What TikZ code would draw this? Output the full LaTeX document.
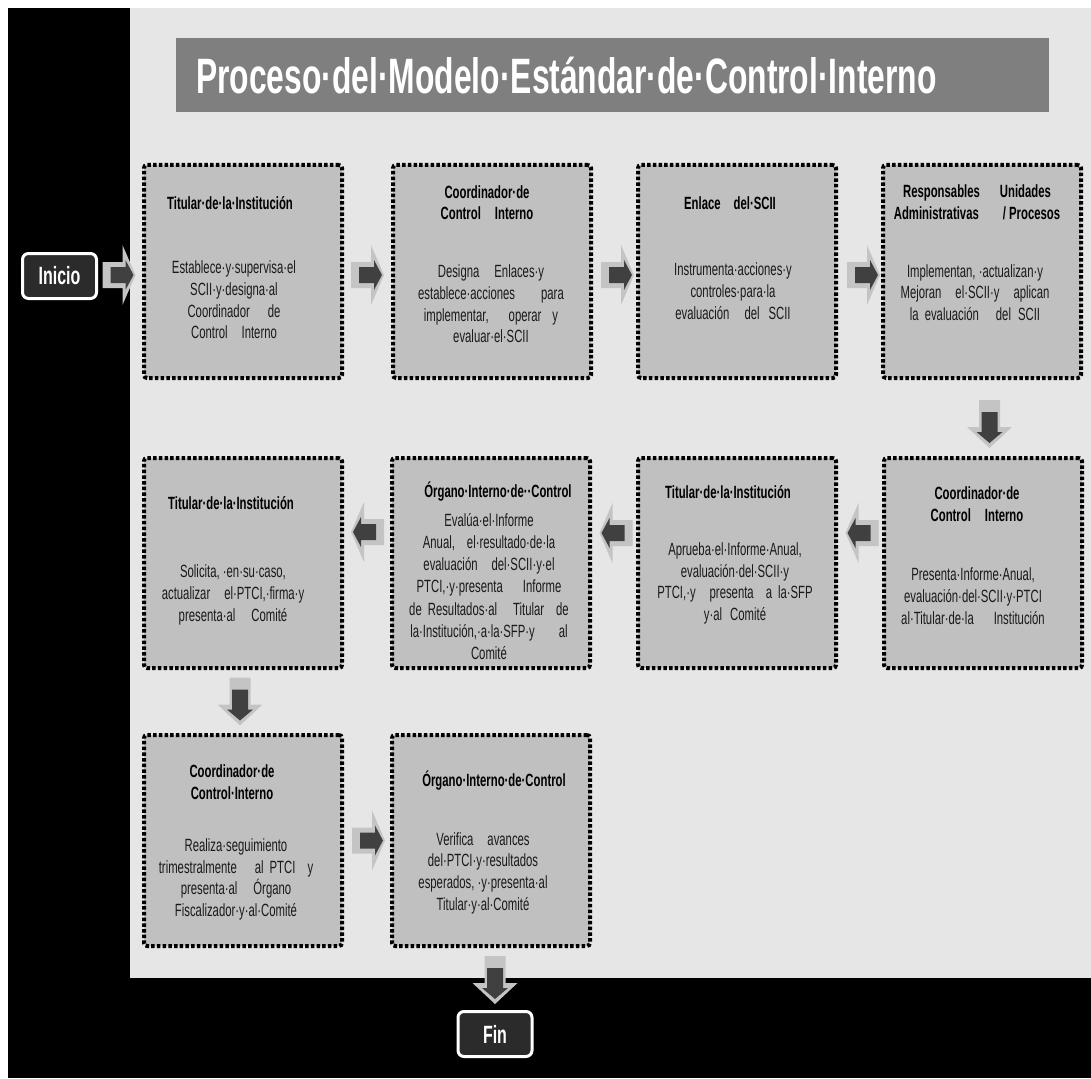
\documentclass[tikz,border=0pt]{standalone}
\usepackage{fontspec}
\setmainfont{Liberation Sans}[FakeStretch=0.64]
\usetikzlibrary{calc}
\definecolor{panel}{HTML}{E6E6E6}
\definecolor{titlebar}{HTML}{7F7F7F}
\definecolor{boxgray}{HTML}{C0C0C0}
\definecolor{arrlight}{HTML}{C4C4C4}
\definecolor{arrdark}{HTML}{404040}
\definecolor{termfill}{HTML}{2B2B2B}
\definecolor{txt}{HTML}{1A1A1A}
\tikzset{
  box/.style={draw=black, fill=boxgray, line width=4pt, dash pattern=on 3.5pt off 2.2pt,
    rounded corners=3pt, minimum width=198pt, minimum height=213pt, inner sep=0pt},
  head/.style={font=\bfseries\fontsize{17.7}{21.5}\selectfont, align=center, inner sep=0pt, text=black},
  body/.style={font=\fontsize{17.7}{21.7}\selectfont, align=center, inner sep=0pt, text=txt},
  termbox/.style={draw=white, line width=3pt, fill=termfill, rounded corners=6pt, text=white,
    font=\bfseries\fontsize{25}{25}\selectfont, minimum width=74pt, minimum height=45pt, inner sep=0pt},
  rarrow/.pic={
    \fill[arrlight] (-16.5,-13) -- (3.5,-13) -- (3.5,-30) -- (16.5,0) -- (3.5,30) -- (3.5,13) -- (-16.5,13) -- cycle;
    \fill[arrdark] (-8.5,-8) -- (6.5,-8) -- (6.5,-15) -- (14.5,0) -- (6.5,15) -- (6.5,8) -- (-8.5,8) -- cycle;
  },
  darrow/.pic={
    \fill[arrlight] (-10.5,-24) -- (10.5,-24) -- (10.5,3) -- (22.5,3) -- (0,24) -- (-22.5,3) -- (-10.5,3) -- cycle;
    \fill[arrdark] (-8,-12) -- (8,-12) -- (8,8) -- (13,8) -- (0,19) -- (-13,8) -- (-8,8) -- cycle;
  }
}
\begin{document}
\begin{tikzpicture}[x=1pt,y=-1pt]
\useasboundingbox (0,0) rectangle (1091,1078);
\fill[white] (0,0) rectangle (1091,1078);
\fill[black] (8,8) rectangle (1091,1078);
\fill[panel] (130,8) rectangle (1091,978);
\fill[titlebar] (176,38) rectangle (1049,112);
\node[anchor=west, inner sep=0pt, text=white, font=\bfseries\fontsize{49.7}{49.7}\selectfont] (title) at (196,76)
  {Proceso·del·Modelo·Estándar·de·Control·Interno};

% terminals
\node[termbox] (ini) at (59.5,276) {Inicio};
\node[termbox] (fin) at (495,1034) {Fin};

% boxes
\node[box] (b1) at (243,271.5) {};
\node[box] (b2) at (492,271.5) {};
\node[box] (b3) at (737,271.5) {};
\node[box] (b4) at (982,271.5) {};
\node[box, minimum height=210pt] (b8) at (983,563) {};
\node[box, minimum height=210pt] (b7) at (737,563) {};
\node[box, minimum height=210pt] (b6) at (491,563) {};
\node[box, minimum height=210pt] (b5) at (243,563) {};
\node[box, minimum height=211pt] (b9) at (243,840.5) {};
\node[box, minimum height=211pt] (b10) at (491,840.5) {};

% texts row 1
\node[head] (h1) at (230,203) {Titular·de·la·Institución};
\node[body] (t1) at (234,300) {Establece·y·supervisa·el\\SCII·y·designa·al\\Coordinador\hspace{18pt}de\\Control\hspace{14pt}Interno};
\node[head] (h2) at (487,202.5) {Coordinador·de\\Control\hspace{14pt}Interno};
\node[body] (t2) at (491,304) {Designa\hspace{15pt}Enlaces·y\\establece·acciones\hspace{26pt}para\\implementar,\hspace{20pt}operar\hspace{11pt}y\\evaluar·el·SCII};
\node[head] (h3) at (730,203) {Enlace\hspace{13pt}del·SCII};
\node[body] (t3) at (733,291) {Instrumenta·acciones·y\\controles·para·la\\evaluación\hspace{15pt}del\hspace{9pt}SCII};
\node[head] (h4) at (977,202.5) {Responsables\hspace{20pt}Unidades\\Administrativas\hspace{24pt}/ Procesos};
\node[body] (t4) at (975,292.5) {Implementan, ·actualizan·y\\Mejoran\hspace{14pt}el·SCII·y\hspace{14pt}aplican\\la\hspace{6pt}evaluación\hspace{17pt}del\hspace{7pt}SCII};

% texts row 2
\node[head] (h8) at (977,504) {Coordinador·de\\Control\hspace{14pt}Interno};
\node[body] (t8) at (973,596) {Presenta·Informe·Anual,\\evaluación·del·SCII·y·PTCI\\al·Titular·de·la\hspace{20pt}Institución};
\node[head] (h7) at (728,492) {Titular·de·la·Institución};
\node[body] (t7) at (735,583.5) {Aprueba·el·Informe·Anual,\\evaluación·del·SCII·y\\PTCI,·y\hspace{14pt}presenta\hspace{12pt}a\hspace{6pt}la·SFP\\y·al\hspace{8pt}Comité};
\node[head] (h6) at (498,492) {Órgano·Interno·de··Control};
\node[body, font=\fontsize{17.7}{22.2}\selectfont] (t6) at (489,586.5) {Evalúa·el·Informe\\Anual,\hspace{12pt}el·resultado·de·la\\evaluación\hspace{14pt}del·SCII·y·el\\PTCI,·y·presenta\hspace{20pt}Informe\\de\hspace{6pt}Resultados·al\hspace{16pt}Titular\hspace{12pt}de\\la·Institución,·a·la·SFP·y\hspace{24pt}al\\Comité};
\node[head] (h5) at (231,503) {Titular·de·la·Institución};
\node[body] (t5) at (233,595) {Solicita, ·en·su·caso,\\actualizar\hspace{14pt}el·PTCI,·firma·y\\presenta·al\hspace{16pt}Comité};

% texts row 3
\node[head] (h9) at (232,782) {Coordinador·de\\Control·Interno};
\node[body] (t9) at (236,879.5) {Realiza·seguimiento\\trimestralmente\hspace{18pt}al\hspace{6pt}PTCI\hspace{12pt}y\\presenta·al\hspace{16pt}Órgano\\Fiscalizador·y·al·Comité};
\node[head] (h10) at (494,781) {Órgano·Interno·de·Control};
\node[body] (t10) at (483,873) {Verifica\hspace{14pt}avances\\del·PTCI·y·resultados\\esperados, ·y·presenta·al\\Titular·y·al·Comité};

% connectors (block arrows)
\pic at ($(ini.east)!.5!(ini.east -| b1.west)+(-1,-1)$) {rarrow};
\pic at ($(b1.east)!.5!(b2.west)+(0,3.5)$) {rarrow};
\pic at ($(b2.east)!.5!(b3.west)+(3,3.5)$) {rarrow};
\pic at ($(b3.east)!.5!(b4.west)+(4,3.5)$) {rarrow};
\pic at ($(b4.south)!.5!(b8.north)+(7,6)$) {darrow};
\pic[xscale=-1] at ($(b8.west)!.5!(b7.east)+(2,-30)$) {rarrow};
\pic[xscale=-1] at ($(b7.west)!.5!(b6.east)+(2,-30)$) {rarrow};
\pic[xscale=-1] at ($(b6.west)!.5!(b5.east)+(0.5,-31)$) {rarrow};
\pic at ($(b5.south)!.5!(b9.north)+(-3,0)$) {darrow};
\pic at ($(b9.east)!.5!(b10.west)+(1.5,0)$) {rarrow};
\pic at ($(b10.south -| fin)!.5!(fin.north)+(0,1)$) {darrow};
\end{tikzpicture}
\end{document}
